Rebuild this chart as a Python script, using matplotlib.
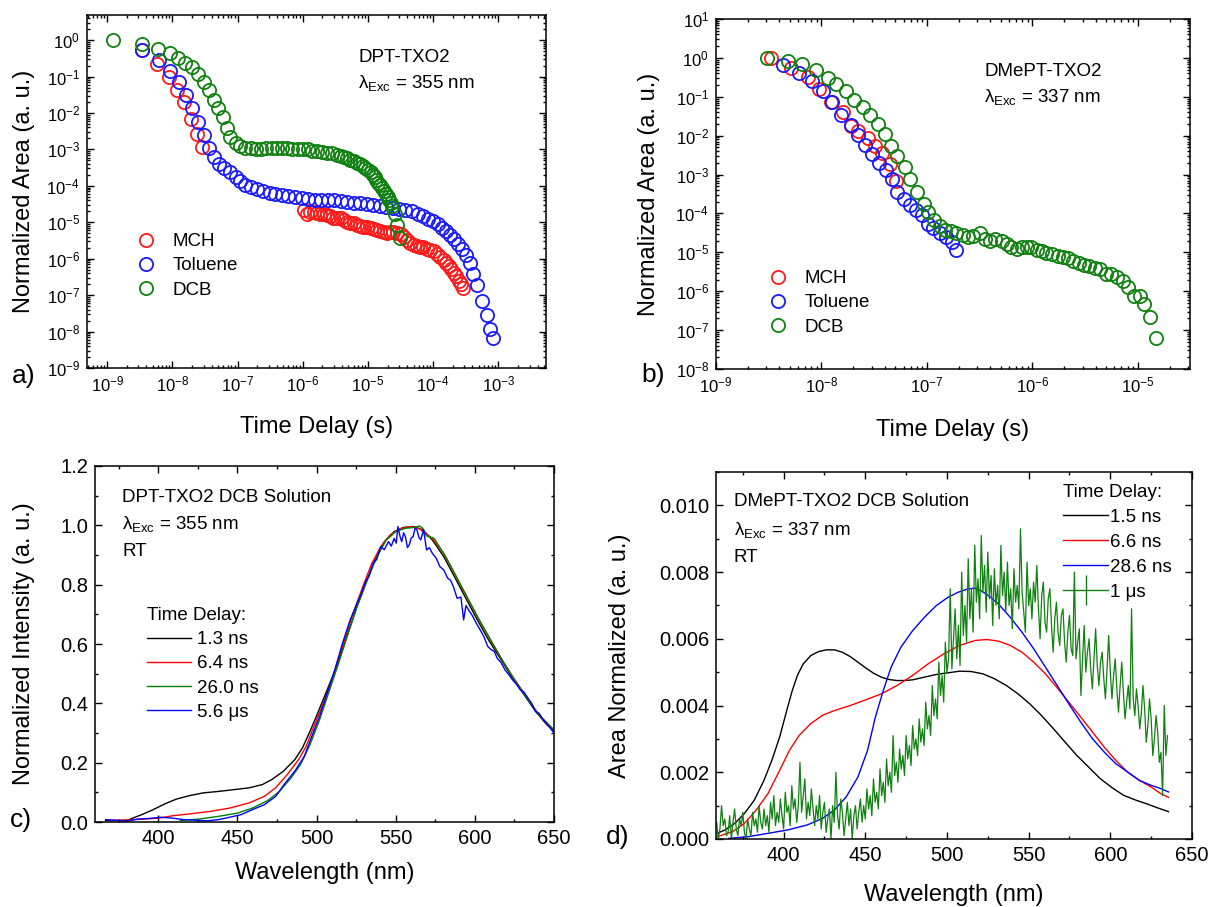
import numpy as np
import matplotlib
matplotlib.use('Agg')
import matplotlib.pyplot as plt
from matplotlib.lines import Line2D
from matplotlib.ticker import LogLocator, MultipleLocator, NullFormatter

plt.rcParams['font.family'] = ['Liberation Sans', 'DejaVu Sans']
plt.rcParams['mathtext.fontset'] = 'custom'
plt.rcParams['mathtext.rm'] = 'Liberation Sans'
plt.rcParams['mathtext.it'] = 'Liberation Sans:italic'
plt.rcParams['mathtext.default'] = 'regular'

# ---- data ----
# panel a) DPT-TXO2, (log10 time, log10 area)
a_mch = [(-8.46, -0.28), (-8.23, -0.66), (-8.05, -1.00), (-7.93, -1.37), (-7.82, -1.71),
         (-7.71, -2.16), (-7.62, -2.57), (-7.55, -2.94),
         (-5.98, -4.65), (-5.94, -4.76), (-5.89, -4.72), (-5.83, -4.71), (-5.78, -4.74),
         (-5.73, -4.76), (-5.68, -4.78), (-5.63, -4.80), (-5.58, -4.84), (-5.53, -4.87),
         (-5.47, -4.88), (-5.42, -4.89), (-5.37, -4.94), (-5.32, -4.99), (-5.27, -5.01),
         (-5.22, -5.03), (-5.17, -5.07), (-5.12, -5.10), (-5.07, -5.12), (-5.02, -5.14),
         (-4.96, -5.17), (-4.91, -5.19), (-4.86, -5.22), (-4.81, -5.24), (-4.76, -5.27),
         (-4.71, -5.29), (-4.66, -5.27), (-4.61, -5.26), (-4.55, -5.30), (-4.50, -5.33),
         (-4.45, -5.40), (-4.40, -5.48), (-4.35, -5.56), (-4.30, -5.61), (-4.25, -5.65),
         (-4.20, -5.67), (-4.15, -5.69), (-4.10, -5.72), (-4.05, -5.76), (-3.99, -5.80),
         (-3.94, -5.87), (-3.89, -5.95), (-3.84, -6.03), (-3.80, -6.11), (-3.76, -6.19),
         (-3.72, -6.28), (-3.68, -6.38), (-3.65, -6.48), (-3.61, -6.60), (-3.58, -6.70),
         (-3.55, -6.81)]
a_tol = [(-8.46, -0.27), (-8.21, -0.54), (-8.04, -0.84), (-7.90, -1.16), (-7.79, -1.50),
         (-7.70, -1.86), (-7.61, -2.25), (-7.52, -2.61), (-7.44, -2.95), (-7.36, -3.21),
         (-7.29, -3.39), (-7.21, -3.52), (-7.11, -3.62), (-7.03, -3.76), (-6.96, -3.88),
         (-6.88, -3.97), (-6.79, -4.04), (-6.70, -4.09), (-6.61, -4.14), (-6.51, -4.20),
         (-6.42, -4.23), (-6.32, -4.26), (-6.22, -4.28), (-6.12, -4.30), (-6.02, -4.32),
         (-5.92, -4.35), (-5.82, -4.38), (-5.72, -4.39), (-5.62, -4.38), (-5.52, -4.40),
         (-5.42, -4.42), (-5.32, -4.44), (-5.22, -4.46), (-5.12, -4.48), (-5.02, -4.50),
         (-4.92, -4.53), (-4.82, -4.56), (-4.72, -4.59), (-4.62, -4.62), (-4.52, -4.63),
         (-4.43, -4.65), (-4.33, -4.70), (-4.24, -4.76), (-4.16, -4.83), (-4.08, -4.90),
         (-4.00, -4.97), (-3.93, -5.06), (-3.86, -5.15), (-3.80, -5.25), (-3.74, -5.36),
         (-3.68, -5.47), (-3.62, -5.60), (-3.56, -5.74), (-3.50, -5.90), (-3.44, -6.12),
         (-3.39, -6.42), (-3.33, -6.73), (-3.25, -7.17), (-3.18, -7.54), (-3.13, -7.92),
         (-3.09, -8.19)]
a_dcb = [(-8.91, 0.00), (-8.46, -0.11), (-8.22, -0.23), (-8.04, -0.36), (-7.91, -0.49),
         (-7.80, -0.63), (-7.70, -0.75), (-7.61, -0.93), (-7.52, -1.16), (-7.44, -1.36),
         (-7.36, -1.63), (-7.30, -1.86), (-7.23, -2.12), (-7.17, -2.41), (-7.11, -2.66),
         (-7.03, -2.82), (-6.96, -2.91), (-6.88, -2.95), (-6.80, -2.97), (-6.72, -2.98),
         (-6.64, -2.98), (-6.56, -2.97), (-6.48, -2.96), (-6.40, -2.96), (-6.32, -2.97),
         (-6.24, -2.97), (-6.16, -2.98), (-6.08, -2.99), (-6.00, -2.99), (-5.92, -3.00),
         (-5.86, -3.03), (-5.78, -3.05), (-5.71, -3.07), (-5.63, -3.09), (-5.55, -3.11),
         (-5.48, -3.15), (-5.42, -3.18), (-5.37, -3.21), (-5.32, -3.24), (-5.27, -3.28),
         (-5.22, -3.32), (-5.17, -3.36), (-5.13, -3.41), (-5.08, -3.46), (-5.04, -3.51),
         (-5.00, -3.56), (-4.96, -3.62), (-4.93, -3.69), (-4.90, -3.76), (-4.87, -3.83),
         (-4.84, -3.91), (-4.81, -3.99), (-4.79, -4.07), (-4.76, -4.15), (-4.73, -4.23),
         (-4.70, -4.31), (-4.68, -4.39), (-4.65, -4.47), (-4.63, -4.56), (-4.59, -4.78),
         (-4.56, -5.08), (-4.51, -5.44)]

# panel b) DMePT-TXO2, (log10 time, log10 area)
b_mch = [(-8.48, 0.00), (-8.29, -0.26), (-8.13, -0.49), (-8.02, -0.79), (-7.91, -1.13),
         (-7.80, -1.39), (-7.72, -1.75), (-7.65, -1.87), (-7.56, -2.06), (-7.49, -2.27),
         (-7.43, -2.45), (-7.35, -2.72), (-7.29, -3.17)]
b_tol = [(-8.36, -0.17), (-8.21, -0.38), (-8.09, -0.60), (-7.99, -0.84), (-7.90, -1.13),
         (-7.81, -1.48), (-7.72, -1.72), (-7.65, -1.97), (-7.59, -2.23), (-7.52, -2.46),
         (-7.45, -2.69), (-7.39, -2.89), (-7.33, -3.11), (-7.28, -3.45), (-7.22, -3.62),
         (-7.16, -3.77), (-7.10, -3.90), (-7.05, -4.03), (-6.99, -4.26), (-6.94, -4.37),
         (-6.88, -4.50), (-6.82, -4.61), (-6.76, -4.74), (-6.72, -4.95)]
b_dcb = [(-8.52, 0.00), (-8.32, -0.09), (-8.18, -0.15), (-8.05, -0.32), (-7.94, -0.52),
         (-7.86, -0.66), (-7.77, -0.86), (-7.69, -1.07), (-7.61, -1.26), (-7.54, -1.48),
         (-7.46, -1.69), (-7.40, -1.95), (-7.34, -2.26), (-7.28, -2.51), (-7.21, -2.81),
         (-7.16, -3.11), (-7.09, -3.45), (-7.03, -3.75), (-6.99, -3.97), (-6.93, -4.16),
         (-6.88, -4.31), (-6.83, -4.42), (-6.77, -4.46), (-6.72, -4.49), (-6.66, -4.55),
         (-6.61, -4.61), (-6.56, -4.57), (-6.50, -4.50), (-6.45, -4.66), (-6.40, -4.72),
         (-6.35, -4.66), (-6.29, -4.72), (-6.24, -4.79), (-6.20, -4.85), (-6.15, -4.91),
         (-6.10, -4.86), (-6.05, -4.85), (-6.01, -4.87), (-5.96, -4.93), (-5.91, -4.97),
         (-5.87, -5.02), (-5.81, -5.03), (-5.76, -5.09), (-5.71, -5.12), (-5.66, -5.14),
         (-5.61, -5.21), (-5.56, -5.27), (-5.51, -5.32), (-5.46, -5.34), (-5.41, -5.40),
         (-5.36, -5.44), (-5.30, -5.55), (-5.25, -5.55), (-5.20, -5.64), (-5.14, -5.74),
         (-5.09, -5.89), (-5.04, -6.13), (-4.98, -6.13), (-4.94, -6.34), (-4.88, -6.67),
         (-4.83, -7.20)]

# panel c) DPT-TXO2 DCB spectra, (wavelength nm, normalized intensity)
c_13ns = [(366.7, 0.005), (380, 0.005), (389.6, 0.025), (396.9, 0.042), (404.1, 0.061),
          (411.3, 0.077), (419.8, 0.089), (428.2, 0.098), (437.9, 0.103), (447.6, 0.109),
          (457.2, 0.115), (465.7, 0.126), (471.7, 0.143), (479, 0.171), (486.2, 0.210),
          (491, 0.249), (495.8, 0.305), (500.7, 0.367), (506.7, 0.446), (512.7, 0.524),
          (518.8, 0.620), (524.8, 0.715), (530.9, 0.805), (536.9, 0.883), (542.9, 0.945),
          (549, 0.979), (555, 0.993), (561, 0.996), (567.1, 0.985), (573.1, 0.951),
          (580.3, 0.895), (587.6, 0.822), (594.8, 0.749), (602.1, 0.676), (609.3, 0.608),
          (616.6, 0.547), (623.8, 0.485), (631.1, 0.429), (638.3, 0.373), (645.5, 0.328),
          (650, 0.305)]
c_64ns = [(370, 0.005), (385, 0.008), (400.5, 0.013), (408.9, 0.021), (421, 0.028),
          (433.1, 0.036), (445.1, 0.047), (457.2, 0.064), (466.9, 0.086), (474.1, 0.115),
          (481.4, 0.159), (488.6, 0.210), (493.4, 0.255), (498.3, 0.322), (504.3, 0.401),
          (510.3, 0.491), (516.4, 0.592), (522.4, 0.693), (528.4, 0.782), (534.5, 0.867),
          (540.5, 0.928), (546.5, 0.968), (552.6, 0.988), (558.6, 0.996), (564.6, 0.990),
          (573.1, 0.956), (580.3, 0.906), (587.6, 0.833), (594.8, 0.760), (602.1, 0.687),
          (609.3, 0.620), (616.6, 0.552), (623.8, 0.491), (631.1, 0.434), (638.3, 0.378),
          (645.5, 0.328), (650, 0.311)]
c_26ns = [(413.8, 0.005), (425.8, 0.010), (437.9, 0.019), (450, 0.030), (459.6, 0.047),
          (469.3, 0.073), (476.5, 0.103), (483.8, 0.148), (489.8, 0.193), (495.8, 0.260),
          (501.9, 0.345), (507.9, 0.440), (513.9, 0.535), (520, 0.637), (526, 0.732),
          (532.1, 0.816), (538.1, 0.895), (544.1, 0.951), (550.2, 0.979), (556.2, 0.990),
          (562.2, 0.993), (565, 0.998), (567.1, 0.990), (569.5, 0.964), (574.3, 0.956),
          (581.5, 0.895), (588.8, 0.822), (596, 0.749), (603.3, 0.676), (610.5, 0.608),
          (617.8, 0.541), (625, 0.479), (632.3, 0.423), (639.5, 0.367), (650, 0.311)]
c_56us = [(366.7, 0.008), (372.7, 0.006), (380, 0.003), (387.2, 0.010), (394.4, 0.012),
          (401.7, 0.016), (408.9, 0.013), (416.2, 0.008), (423.4, 0.006), (430.7, 0.004),
          (437.9, 0.008), (445.1, 0.016), (452.4, 0.025), (459.6, 0.042), (466.9, 0.058),
          (474.1, 0.086), (480.1, 0.131), (486.2, 0.171), (492.2, 0.221), (497, 0.289),
          (501.9, 0.356), (506.7, 0.434), (511.5, 0.513), (516.4, 0.603), (521.2, 0.681),
          (526, 0.743), (528.5, 0.772), (530.9, 0.810), (533.2, 0.830), (535.7, 0.872),
          (538.0, 0.885), (540.5, 0.928), (542.8, 0.918), (545.4, 0.945), (547.2, 0.930),
          (549, 0.956), (550.3, 0.940), (551.4, 0.996), (552.6, 0.965), (553.8, 0.945),
          (555.0, 0.975), (556.2, 0.960), (557.4, 0.925), (558.6, 0.934), (559.8, 0.958),
          (561, 0.962), (562.2, 0.990), (563.4, 0.985), (564.6, 0.960), (565.8, 0.951),
          (567.6, 0.985), (569.5, 0.917), (571.3, 0.925), (573.1, 0.906), (575.5, 0.890),
          (577.9, 0.861), (580.3, 0.850), (582.8, 0.822), (584.6, 0.815), (586.4, 0.794),
          (588.8, 0.754), (591.2, 0.758), (592.9, 0.681), (594.4, 0.730), (596, 0.715),
          (598.5, 0.695), (600.9, 0.670), (603.3, 0.648), (605.7, 0.625), (608.1, 0.592),
          (610.5, 0.580), (612.3, 0.575), (614.1, 0.552), (616.5, 0.538), (619, 0.513),
          (621.4, 0.497), (623.8, 0.479), (626.2, 0.465), (628.6, 0.446), (631.0, 0.438),
          (633.5, 0.418), (635.9, 0.400), (638.3, 0.373), (640.7, 0.366), (643.1, 0.345),
          (646.5, 0.325), (650, 0.300)]

# panel d) DMePT-TXO2 DCB spectra, (wavelength nm, area normalized)
d_15ns = [(359.3, 0.00017), (364.1, 0.00027), (370.1, 0.00047), (376.1, 0.00077),
          (382.1, 0.00117), (388, 0.00176), (392.8, 0.00236), (397.6, 0.00306),
          (401.9, 0.00385), (405.3, 0.00445), (408.4, 0.00490), (412, 0.00525),
          (416.7, 0.00550), (421.5, 0.00562), (426.3, 0.00567), (431.1, 0.00567),
          (435.9, 0.00560), (440.7, 0.00547), (445.5, 0.00530), (450.2, 0.00513),
          (455, 0.00497), (459.8, 0.00485), (464.6, 0.00478), (469.4, 0.00475),
          (474.2, 0.00475), (478.9, 0.00477), (486.1, 0.00485), (493.3, 0.00493),
          (500.5, 0.00498), (507.7, 0.00503), (514.8, 0.00502), (522, 0.00495),
          (529.2, 0.00480), (536.4, 0.00460), (543.5, 0.00435), (550.7, 0.00405),
          (557.9, 0.00370), (565.1, 0.00331), (572.2, 0.00291), (579.4, 0.00251),
          (586.6, 0.00216), (593.8, 0.00181), (601, 0.00154), (608.1, 0.00131),
          (615.3, 0.00117), (622.5, 0.00105), (629.7, 0.00092), (635.6, 0.00082)]
d_66ns = [(359.3, 0.00007), (368.9, 0.00022), (376.1, 0.00047), (383.3, 0.00087),
          (390.4, 0.00136), (397.6, 0.00206), (403.6, 0.00266), (409.6, 0.00311),
          (416.7, 0.00346), (423.9, 0.00371), (431.1, 0.00385), (440.7, 0.00400),
          (450.2, 0.00417), (459.8, 0.00435), (469.4, 0.00460), (478.9, 0.00490),
          (488.5, 0.00525), (498.1, 0.00555), (507.7, 0.00580), (517.2, 0.00595),
          (524.4, 0.00598), (531.6, 0.00593), (538.8, 0.00580), (545.9, 0.00560),
          (553.1, 0.00530), (560.3, 0.00495), (567.5, 0.00453), (574.6, 0.00410),
          (581.8, 0.00366), (589, 0.00321), (596.2, 0.00276), (603.3, 0.00236),
          (610.5, 0.00201), (617.7, 0.00176), (624.9, 0.00156), (630.9, 0.00136),
          (635.6, 0.00125)]
d_286ns = [(366.5, 0.00002), (378.5, 0.00007), (390.4, 0.00017), (402.4, 0.00027),
           (414.4, 0.00042), (423.9, 0.00062), (431.1, 0.00087), (438.3, 0.00126),
           (445.5, 0.00186), (451.4, 0.00266), (456.2, 0.00366), (461, 0.00445),
           (465.8, 0.00515), (471.8, 0.00575), (478.9, 0.00624), (486.1, 0.00664),
           (493.3, 0.00699), (500.5, 0.00724), (506.5, 0.00739), (512.4, 0.00749),
           (517.2, 0.00752), (520.8, 0.00744), (525.6, 0.00729), (531.6, 0.00704),
           (538.8, 0.00664), (545.9, 0.00620), (553.1, 0.00570), (560.3, 0.00515),
           (567.5, 0.00460), (574.6, 0.00405), (581.8, 0.00351), (589, 0.00301),
           (596.2, 0.00261), (603.3, 0.00226), (610.5, 0.00201), (617.7, 0.00176),
           (624.9, 0.00161), (630.9, 0.00151), (635.6, 0.00141)]
# 1 us trace: wavelength from 359 nm in 1 nm steps, y in units of 1e-3
d_1us_start = 359
d_1us = [0.5, 0.0, 0.3, 1.0, 0.4, 0.6, 0.1, 0.2, 0.7, 0.0, 0.5, 0.9, 0.3, 0.1, 0.6, 0.4,
         0.8, 0.2, 0.0, 0.6, 0.3, 0.1,                                       # 359-380
         0.8, 0.4, 0.6, 0.2, 1.0, 0.5, 0.3, 0.9, 0.4, 0.7, 0.2, 1.1, 0.6, 1.3, 0.4, 0.8,
         0.5, 1.2, 0.7, 0.3,                                                 # 381-400
         1.4, 0.8, 1.0, 0.4, 1.6, 0.9, 1.2, 0.5, 1.0, 2.3, 0.8, 1.3, 1.8, 0.6, 1.1, 0.7,
         1.5, 0.9, 0.4, 1.0,                                                 # 401-420
         0.6, 1.3, 0.3, 0.8, 1.1, 0.2, 0.6, 0.9, 0.0, 1.0, 0.5, 2.0, 0.7, 0.3, 1.2, 0.8,
         0.1, 0.6, 1.1, 0.4,                                                 # 421-440
         0.9, 0.0, 0.7, 1.0, 0.3, 0.8, 1.2, 0.5, 1.0, 0.6, 1.5, 0.9, 1.3, 0.7, 1.8, 1.1,
         1.4, 0.9, 2.1, 1.3,                                                 # 441-460
         1.7, 1.1, 2.4, 1.6, 2.0, 1.4, 3.1, 1.9, 2.3, 1.7, 2.7, 2.1, 2.5, 1.9, 3.1, 2.4,
         2.8, 2.2, 3.4, 2.7,                                                 # 461-480
         3.0, 2.5, 3.6, 2.9, 3.3, 2.8, 4.1, 3.3, 3.7, 3.1, 4.6, 3.7, 4.2, 3.6, 5.3, 4.3,
         4.9, 4.1, 5.9, 5.0,                                                 # 481-500
         5.4, 7.5, 5.1, 6.0, 6.9, 5.4, 6.4, 5.2, 8.0, 6.1, 7.0, 5.9, 8.4, 6.6, 7.5, 6.2,
         8.8, 7.1, 7.8, 6.6,                                                 # 501-520
         9.1, 7.4, 8.2, 6.8, 8.6, 7.2, 7.9, 6.4, 8.1, 7.0, 7.6, 6.6, 8.8, 7.3, 8.0, 6.8,
         8.3, 7.0, 7.5, 6.3,                                                 # 521-540
         8.1, 7.1, 7.6, 6.9, 9.3, 7.4, 6.8, 6.2, 8.3, 7.0, 7.5, 6.6, 7.7, 7.1, 8.2, 6.9,
         6.0, 7.3, 7.7, 6.5,                                                 # 541-560
         6.2, 7.2, 7.5, 6.4, 5.6, 6.6, 7.1, 6.2, 5.8, 6.7, 6.9, 5.9, 5.3, 6.2, 6.7, 5.7,
         5.5, 8.0, 5.4, 5.9,                                                 # 561-580
         6.3, 4.3, 5.4, 6.4, 5.0, 5.6, 6.0, 5.1, 4.5, 5.4, 6.3, 5.2, 4.6, 5.3, 5.6, 4.8,
         4.2, 5.1, 6.1, 5.0,                                                 # 581-600
         4.2, 4.9, 5.4, 4.5, 3.8, 4.6, 5.3, 4.4, 3.6, 4.1, 4.6, 3.9, 6.9, 4.2, 3.7, 4.5,
         4.0, 3.3, 3.8, 4.6,                                                 # 601-620
         3.9, 2.9, 3.4, 4.2, 3.6, 2.5, 3.0, 3.7, 3.2, 2.3, 2.6, 1.3, 4.0, 2.5, 3.1]  # 621-635

RED, BLUE, GREEN = '#ff1a1a', '#1a1aff', '#108010'
W, H = 1212, 907


def fx(px):
    return px / W


def fy(py):
    return 1 - py / H


def style(ax, labelsize):
    ax.tick_params(which='both', direction='in', top=True, right=True, width=1.0)
    ax.tick_params(which='major', length=5, labelsize=labelsize, pad=5)
    ax.tick_params(which='minor', length=2.5)
    for s in ax.spines.values():
        s.set_linewidth(1.1)


def log_axis(axis):
    axis.set_major_locator(LogLocator(base=10, numticks=20))
    axis.set_minor_locator(LogLocator(base=10, subs=np.arange(2, 10), numticks=20))
    axis.set_minor_formatter(NullFormatter())


def scatter_log(ax, pts, color, label):
    p = np.array(pts)
    ax.plot(10 ** p[:, 0], 10 ** p[:, 1], 'o', mfc='none', mec=color, mew=1.3, ms=9.5,
            label=label)


fig = plt.figure(figsize=(12.12, 9.07), dpi=100)

# ---------------- a) ----------------
ax = fig.add_axes([fx(87), fy(368), fx(546) - fx(87), fy(15) - fy(368)])
scatter_log(ax, a_mch, RED, 'MCH')
scatter_log(ax, a_tol, BLUE, 'Toluene')
scatter_log(ax, a_dcb, GREEN, 'DCB')
ax.set_xscale('log')
ax.set_yscale('log')
log_axis(ax.xaxis)
log_axis(ax.yaxis)
ax.set_xlim(10 ** -9.31, 10 ** -2.27)
ax.set_ylim(1e-9, 10 ** 0.69)
style(ax, 12)
ax.set_xlabel('Time Delay (s)', fontsize=17, labelpad=15)
ax.set_ylabel('Normalized Area (a. u.)', fontsize=17, labelpad=8)
ax.legend(loc='upper left', bbox_to_anchor=(fx(137), fy(233)), bbox_transform=fig.transFigure,
          frameon=False, borderpad=0, borderaxespad=0, handlelength=1.0, handletextpad=0.9,
          labelspacing=0.38, fontsize=13.5, numpoints=1)
fig.text(fx(358), fy(58), 'DPT-TXO2', fontsize=13.5, va='center')
fig.text(fx(358), fy(83), r'$\lambda_{Exc}$ = 355 nm', fontsize=13.5, va='center')
fig.text(fx(12), fy(376), 'a)', fontsize=19, va='center')

# ---------------- b) ----------------
ax = fig.add_axes([fx(716), fy(369), fx(1190) - fx(716), fy(19) - fy(369)])
scatter_log(ax, b_mch, RED, 'MCH')
scatter_log(ax, b_tol, BLUE, 'Toluene')
scatter_log(ax, b_dcb, GREEN, 'DCB')
ax.set_xscale('log')
ax.set_yscale('log')
log_axis(ax.xaxis)
log_axis(ax.yaxis)
ax.set_xlim(1e-9, 10 ** -4.505)
ax.set_ylim(1e-8, 1e1)
style(ax, 12)
ax.set_xlabel('Time Delay (s)', fontsize=17, labelpad=17)
ax.set_ylabel('Normalized Area (a. u.)', fontsize=17, labelpad=11)
ax.legend(loc='upper left', bbox_to_anchor=(fx(769), fy(270)), bbox_transform=fig.transFigure,
          frameon=False, borderpad=0, borderaxespad=0, handlelength=1.0, handletextpad=0.9,
          labelspacing=0.38, fontsize=13.5, numpoints=1)
fig.text(fx(984), fy(72), 'DMePT-TXO2', fontsize=13.5, va='center')
fig.text(fx(984), fy(97), r'$\lambda_{Exc}$ = 337 nm', fontsize=13.5, va='center')
fig.text(fx(641), fy(375), 'b)', fontsize=19, va='center')

# ---------------- c) ----------------
ax = fig.add_axes([fx(95), fy(822), fx(554) - fx(95), fy(466) - fy(822)])
for pts, color, label in [(c_13ns, 'black', '1.3 ns'), (c_64ns, 'red', '6.4 ns'),
                          (c_26ns, '#008000', '26.0 ns'), (c_56us, 'blue', '5.6 \u03bcs')]:
    p = np.array(pts)
    ax.plot(p[:, 0], p[:, 1], color=color, lw=1.0, label=label)
ax.set_xlim(360, 650)
ax.set_ylim(0, 1.2)
ax.xaxis.set_major_locator(MultipleLocator(50))
ax.xaxis.set_minor_locator(MultipleLocator(25))
ax.yaxis.set_major_locator(MultipleLocator(0.2))
ax.yaxis.set_minor_locator(MultipleLocator(0.1))
ax.yaxis.set_major_formatter(lambda v, pos: f'{v:.1f}')
style(ax, 14.5)
ax.set_xlabel('Wavelength (nm)', fontsize=17, labelpad=10)
ax.set_ylabel('Normalized Intensity (a. u.)', fontsize=17, labelpad=18)
ax.legend(loc='upper left', bbox_to_anchor=(fx(147), fy(607)), bbox_transform=fig.transFigure,
          frameon=False, borderpad=0, borderaxespad=0, handlelength=2.35, handletextpad=0.3,
          labelspacing=0.38, fontsize=13.5, title='Time Delay:', title_fontsize=13.5,
          alignment='left')
fig.text(fx(122), fy(498), 'DPT-TXO2 DCB Solution', fontsize=13.5, va='center')
fig.text(fx(122), fy(524), r'$\lambda_{Exc}$ = 355 nm', fontsize=13.5, va='center')
fig.text(fx(122), fy(552), 'RT', fontsize=13.5, va='center')
fig.text(fx(10), fy(820), 'c)', fontsize=19, va='center')

# ---------------- d) ----------------
ax = fig.add_axes([fx(716), fy(839), fx(1192) - fx(716), fy(472) - fy(839)])
for pts, color in [(d_15ns, 'black'), (d_66ns, 'red'), (d_286ns, 'blue')]:
    p = np.array(pts)
    ax.plot(p[:, 0], p[:, 1], color=color, lw=1.0)
d_1us_y = np.array(d_1us) * 1e-3
d_1us_x = d_1us_start + np.arange(len(d_1us_y))
ax.plot(d_1us_x, d_1us_y, color='#108010', lw=0.9)
ax.set_xlim(358.6, 650)
ax.set_ylim(0, 0.011)
ax.xaxis.set_major_locator(MultipleLocator(50))
ax.xaxis.set_minor_locator(MultipleLocator(25))
ax.yaxis.set_major_locator(MultipleLocator(0.002))
ax.yaxis.set_minor_locator(MultipleLocator(0.001))
ax.yaxis.set_major_formatter(lambda v, pos: f'{v:.3f}')
style(ax, 14.5)
ax.set_xlabel('Wavelength (nm)', fontsize=17, labelpad=14)
ax.set_ylabel('Area Normalized (a. u.)', fontsize=17, labelpad=20)
handles = [Line2D([], [], color='black', lw=1.0), Line2D([], [], color='red', lw=1.0),
           Line2D([], [], color='blue', lw=1.0),
           Line2D([], [], color='#108010', lw=1.0, marker='|', ms=22, mew=1.0)]
ax.legend(handles, ['1.5 ns', '6.6 ns', '28.6 ns', '1 \u03bcs'], loc='upper left',
          bbox_to_anchor=(fx(1063), fy(484)), bbox_transform=fig.transFigure,
          frameon=False, borderpad=0, borderaxespad=0, handlelength=2.4, handletextpad=0.12,
          labelspacing=0.42, fontsize=13.5, title='Time Delay:', title_fontsize=13.5,
          alignment='left', numpoints=1)
fig.text(fx(734), fy(502), 'DMePT-TXO2 DCB Solution', fontsize=13.5, va='center')
fig.text(fx(734), fy(530), r'$\lambda_{Exc}$ = 337 nm', fontsize=13.5, va='center')
fig.text(fx(734), fy(558), 'RT', fontsize=13.5, va='center')
fig.text(fx(606), fy(837), 'd)', fontsize=19, va='center')

fig.savefig('out.png', dpi=100, facecolor='white')
